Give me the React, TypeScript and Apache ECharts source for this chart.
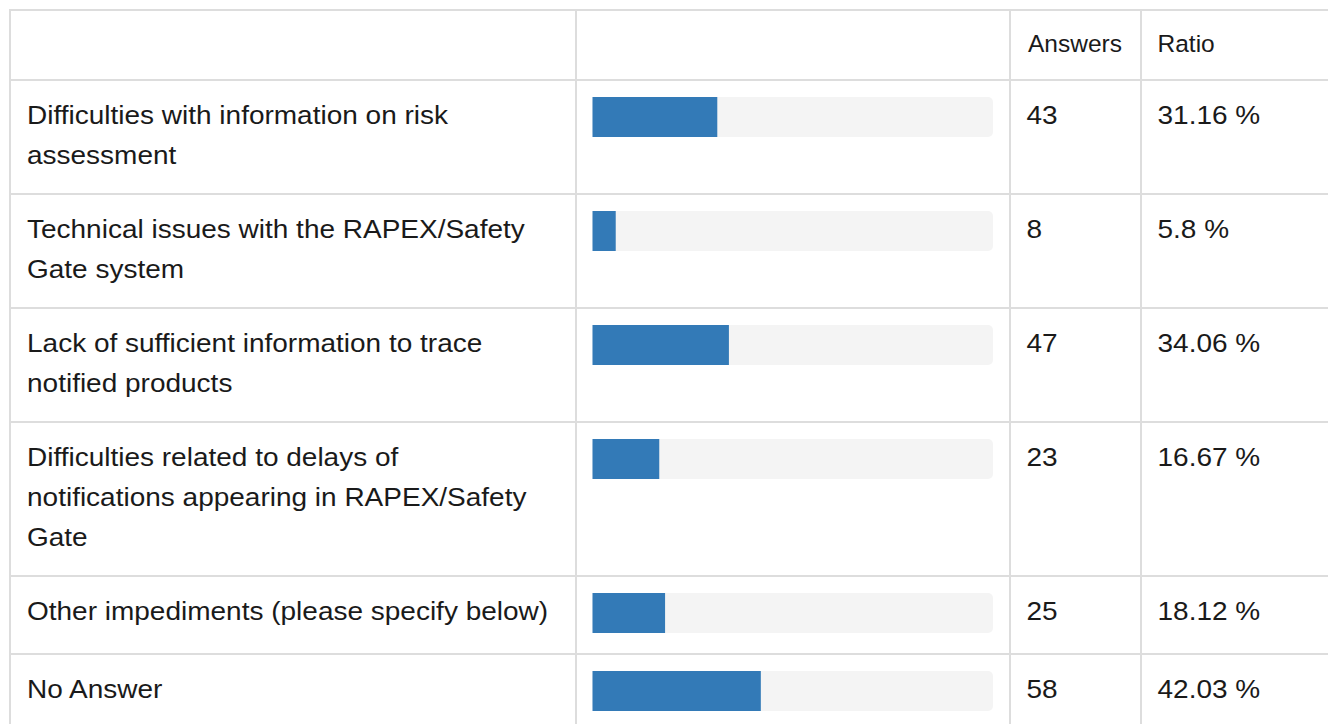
import React, { useEffect, useRef } from "react";
import * as echarts from "echarts";

// ---- data ----
const categories = [
  "Difficulties with information on risk assessment",
  "Technical issues with the RAPEX/Safety Gate system",
  "Lack of sufficient information to trace notified products",
  "Difficulties related to delays of notifications appearing in RAPEX/Safety Gate",
  "Other impediments (please specify below)",
  "No Answer",
];
const answers = [43, 8, 47, 23, 25, 58];
const ratios = [31.16, 5.8, 34.06, 16.67, 18.12, 42.03];
const headerLabels = ["Answers", "Ratio"];

// ---- layout ----
const W = 1328;
const H = 724;
const tableTop = 10;
const rowLines = [80, 194, 308, 422, 576, 654];
const colLines = [10, 576, 1010, 1141];
const barLeft = 592.5;
const barTrack = 400.5;
const barOffset = 17;
const barHeight = 40;
const FONT = "'Liberation Sans', Arial, Helvetica, sans-serif";
const TEXT = "#1a1a1a";
const BODY_FS = 25;
const BODY_SX = 1.12;
const HEAD_FS = 24.5;
const BASE_OFF = 44;

export default function App() {
  const ref = useRef<HTMLDivElement>(null);
  useEffect(() => {
    const chart = echarts.init(ref.current!, null, { renderer: "svg" });
    const grids = categories.map((_, i) => ({
      left: barLeft,
      top: rowLines[i] + barOffset,
      width: barTrack,
      height: barHeight,
    }));
    const xAxes = categories.map((_, i) => ({
      type: "value",
      gridIndex: i,
      min: 0,
      max: 100,
      show: false,
    }));
    const yAxes = categories.map((c, i) => ({
      type: "category",
      gridIndex: i,
      data: [c],
      show: false,
    }));
    const series = categories.map((c, i) => ({
      type: "bar",
      name: c,
      xAxisIndex: i,
      yAxisIndex: i,
      data: [ratios[i]],
      barWidth: barHeight,
      showBackground: true,
      backgroundStyle: { color: "#f4f4f4", borderRadius: 5 },
      itemStyle: { color: "#337ab7" },
      silent: true,
    }));

    const lineStyle = { stroke: "#dddddd", lineWidth: 2 };
    const graphics: any[] = [];
    [tableTop, ...rowLines].forEach((y) =>
      graphics.push({
        type: "line",
        shape: { x1: 9, y1: y, x2: W, y2: y },
        style: lineStyle,
        silent: true,
      })
    );
    colLines.forEach((x) =>
      graphics.push({
        type: "line",
        shape: { x1: x, y1: 9, x2: x, y2: H },
        style: lineStyle,
        silent: true,
      })
    );
    // header
    const headX = [1028, 1157.5];
    headerLabels.forEach((t, i) =>
      graphics.push({
        type: "text",
        x: headX[i],
        y: tableTop + 42.3 - 0.3465 * HEAD_FS,
        silent: true,
        style: {
          text: t,
          fontSize: HEAD_FS,
          fontFamily: FONT,
          fill: TEXT,
          verticalAlign: "middle",
          align: "left",
        },
      })
    );
    // body rows
    categories.forEach((c, i) => {
      const y = rowLines[i] + BASE_OFF - 20 - 0.3465 * BODY_FS;
      const common = {
        fontSize: BODY_FS,
        fontFamily: FONT,
        fill: TEXT,
        verticalAlign: "top",
        align: "left",
        lineHeight: 40,
      };
      graphics.push({
        type: "text",
        x: 27,
        y,
        scaleX: BODY_SX,
        silent: true,
        style: { ...common, text: c, width: 470, overflow: "break" },
      });
      graphics.push({
        type: "text",
        x: 1026.5,
        y,
        scaleX: BODY_SX,
        silent: true,
        style: { ...common, text: String(answers[i]) },
      });
      graphics.push({
        type: "text",
        x: 1157.5,
        y,
        scaleX: BODY_SX,
        silent: true,
        style: { ...common, text: ratios[i] + " %" },
      });
    });

    chart.setOption({
      animation: false,
      backgroundColor: "#ffffff",
      grid: grids,
      xAxis: xAxes,
      yAxis: yAxes,
      series,
      graphic: graphics,
    });
    return () => chart.dispose();
  }, []);
  return (
    <div
      ref={ref}
      style={{ position: "absolute", left: 0, top: 0, width: W, height: H }}
    />
  );
}
